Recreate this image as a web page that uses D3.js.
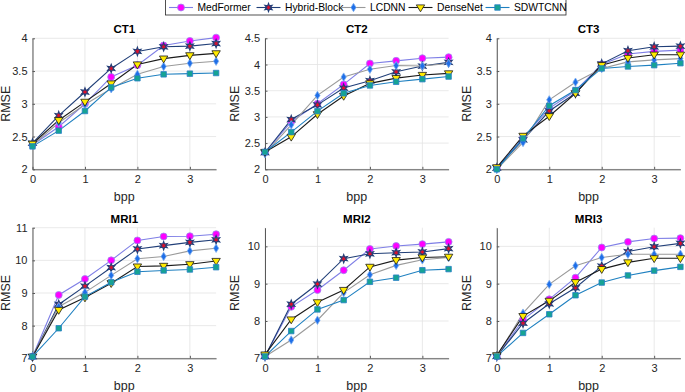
<!DOCTYPE html>
<html><head><meta charset="utf-8">
<script src="https://cdn.jsdelivr.net/npm/d3@7"></script>
<style>body{margin:0;background:#fff}svg{display:block;font-family:"Liberation Sans",Arial,sans-serif}</style>
</head><body><svg id="c" width="685" height="392"></svg>
<script>
const bpp = [0, 0.5, 1, 1.5, 2, 2.5, 3, 3.5];
const seriesNames = ["MedFormer", "Hybrid-Block", "LCDNN", "DenseNet", "SDWTCNN"];
const panelTitles = ["CT1", "CT2", "CT3", "MRI1", "MRI2", "MRI3"];
const yDomains = [[2, 4], [2, 4.5], [2, 4], [7, 11], [7, 10.5], [7, 10.5]];
const yTickSets = [[2, 2.5, 3, 3.5, 4], [2, 2.5, 3, 3.5, 4, 4.5], [2, 2.5, 3, 3.5, 4], [7, 8, 9, 10, 11], [7, 8, 9, 10], [7, 8, 9, 10]];
const xTicks = [0, 1, 2, 3];

const ct1MedFormer = [2.37, 2.65, 3.00, 3.41, 3.59, 3.89, 3.96, 4.01];
const ct1Hybrid    = [2.40, 2.82, 3.18, 3.54, 3.80, 3.87, 3.88, 3.92];
const ct1LCDNN     = [2.37, 2.71, 2.99, 3.23, 3.45, 3.57, 3.62, 3.65];
const ct1DenseNet  = [2.39, 2.75, 3.03, 3.31, 3.60, 3.69, 3.74, 3.77];
const ct1SDWTCNN   = [2.35, 2.59, 2.89, 3.25, 3.39, 3.45, 3.46, 3.47];

const ct2MedFormer = [2.32, 2.91, 3.25, 3.62, 4.02, 4.07, 4.12, 4.14];
const ct2Hybrid    = [2.32, 2.95, 3.23, 3.55, 3.69, 3.86, 3.97, 4.04];
const ct2LCDNN     = [2.30, 2.85, 3.41, 3.76, 3.91, 3.98, 3.97, 4.02];
const ct2DenseNet  = [2.33, 2.62, 3.05, 3.40, 3.64, 3.74, 3.80, 3.83];
const ct2SDWTCNN   = [2.33, 2.71, 3.11, 3.45, 3.60, 3.67, 3.72, 3.77];

const ct3MedFormer = [2.02, 2.48, 2.93, 3.20, 3.60, 3.76, 3.80, 3.82];
const ct3Hybrid    = [2.02, 2.45, 2.89, 3.16, 3.61, 3.81, 3.87, 3.88];
const ct3LCDNN     = [2.00, 2.41, 3.06, 3.33, 3.54, 3.64, 3.67, 3.69];
const ct3DenseNet  = [2.03, 2.51, 2.81, 3.16, 3.59, 3.70, 3.75, 3.75];
const ct3SDWTCNN   = [2.00, 2.47, 2.97, 3.21, 3.54, 3.57, 3.59, 3.62];

const mri1MedFormer = [7.05, 8.94, 9.43, 10.00, 10.61, 10.73, 10.74, 10.80];
const mri1Hybrid    = [7.05, 8.65, 9.21, 9.78, 10.35, 10.45, 10.55, 10.63];
const mri1LCDNN     = [7.05, 8.58, 9.02, 9.54, 10.05, 10.12, 10.29, 10.37];
const mri1DenseNet  = [7.05, 8.48, 8.86, 9.30, 9.81, 9.83, 9.88, 9.98];
const mri1SDWTCNN   = [7.05, 7.92, 8.89, 9.33, 9.65, 9.69, 9.72, 9.79];

const mri2MedFormer = [7.05, 8.38, 8.83, 9.36, 9.93, 10.01, 10.06, 10.12];
const mri2Hybrid    = [7.05, 8.45, 8.99, 9.67, 9.80, 9.83, 9.85, 9.94];
const mri2LCDNN     = [7.05, 7.49, 8.02, 8.76, 9.24, 9.49, 9.64, 9.70];
const mri2DenseNet  = [7.10, 8.04, 8.50, 8.83, 9.45, 9.63, 9.70, 9.72];
const mri2SDWTCNN   = [7.05, 7.73, 8.31, 8.56, 9.05, 9.16, 9.36, 9.39];

const mri3MedFormer = [7.05, 8.03, 8.58, 9.16, 9.97, 10.12, 10.21, 10.22];
const mri3Hybrid    = [7.05, 7.94, 8.46, 8.89, 9.47, 9.86, 9.99, 10.08];
const mri3LCDNN     = [7.05, 8.21, 8.98, 9.48, 9.70, 9.79, 9.79, 9.79];
const mri3DenseNet  = [7.08, 8.13, 8.54, 9.04, 9.39, 9.57, 9.68, 9.68];
const mri3SDWTCNN   = [7.05, 7.68, 8.18, 8.69, 9.03, 9.22, 9.35, 9.45];

const panelData = [
  [ct1MedFormer, ct1Hybrid, ct1LCDNN, ct1DenseNet, ct1SDWTCNN],
  [ct2MedFormer, ct2Hybrid, ct2LCDNN, ct2DenseNet, ct2SDWTCNN],
  [ct3MedFormer, ct3Hybrid, ct3LCDNN, ct3DenseNet, ct3SDWTCNN],
  [mri1MedFormer, mri1Hybrid, mri1LCDNN, mri1DenseNet, mri1SDWTCNN],
  [mri2MedFormer, mri2Hybrid, mri2LCDNN, mri2DenseNet, mri2SDWTCNN],
  [mri3MedFormer, mri3Hybrid, mri3LCDNN, mri3DenseNet, mri3SDWTCNN]
];

const styles = [
  {line: "#7f7fe6", fill: "#ff00ff", stroke: "#9a8cf0", shape: "circle"},
  {line: "#213f78", fill: "#e0102a", stroke: "#213f78", shape: "hexagram"},
  {line: "#9a9a9a", fill: "#1f6fe8", stroke: "#7fb0f0", shape: "diamond"},
  {line: "#1a1a1a", fill: "#ffea00", stroke: "#1a1a1a", shape: "tridown"},
  {line: "#1f80c0", fill: "#16a394", stroke: "#2a80c8", shape: "square"}
];

function markerPath(shape) {
  if (shape === "circle") return d3.symbol(d3.symbolCircle, 38)();
  if (shape === "square") return d3.symbol(d3.symbolSquare, 30)();
  if (shape === "diamond") return "M0,-4.2L2.6,0L0,4.2L-2.6,0Z";
  if (shape === "tridown") return "M-4.2,-2.6L4.2,-2.6L0,4.3Z";
  if (shape === "hexagram") {
    const pts = [];
    for (let i = 0; i < 12; i++) {
      const r = i % 2 === 0 ? 4.2 : 1.9;
      const a = Math.PI / 6 * i - Math.PI / 2;
      pts.push([r * Math.cos(a), r * Math.sin(a)]);
    }
    return "M" + pts.map(p => p[0].toFixed(2) + "," + p[1].toFixed(2)).join("L") + "Z";
  }
}

const svg = d3.select("#c");
const colX = [32.5, 265, 496.8];
const rowY = [[38.3, 169.3], [227.7, 358.3]];
const plotW = 183.6;
const ylabOff = [23, 26, 26];

panelTitles.forEach((title, pi) => {
  const col = pi % 3, row = Math.floor(pi / 3);
  const x0 = colX[col], yTop = rowY[row][0], yBot = rowY[row][1];
  const x = d3.scaleLinear().domain([0, 3.5]).range([x0, x0 + plotW]);
  const y = d3.scaleLinear().domain(yDomains[pi]).range([yBot, yTop]);
  const g = svg.append("g");

  g.selectAll(".gx").data(xTicks).enter().append("line")
    .attr("x1", d => x(d)).attr("x2", d => x(d)).attr("y1", yTop).attr("y2", yBot)
    .attr("stroke", "#e3e3e3").attr("stroke-width", 0.8);
  g.selectAll(".gy").data(yTickSets[pi]).enter().append("line")
    .attr("x1", x0).attr("x2", x0 + plotW).attr("y1", d => y(d)).attr("y2", d => y(d))
    .attr("stroke", "#e3e3e3").attr("stroke-width", 0.8);

  const ax = d3.axisBottom(x).tickValues(xTicks).tickFormat(d3.format("d")).tickSizeInner(-2.5).tickSizeOuter(0).tickPadding(6);
  const axG = g.append("g").attr("transform", `translate(0,${yBot})`).call(ax);
  const ay = d3.axisLeft(y).tickValues(yTickSets[pi]).tickFormat(d => String(d)).tickSizeInner(-2.5).tickSizeOuter(0).tickPadding(5);
  const ayG = g.append("g").attr("transform", `translate(${x0},0)`).call(ay);
  [axG, ayG].forEach(a => {
    a.select(".domain").attr("stroke", "#595959").attr("stroke-width", 1);
    a.selectAll(".tick line").attr("stroke", "#595959");
    a.selectAll(".tick text").attr("fill", "#262626").attr("font-size", 11).attr("font-family", "Liberation Sans, Arial, sans-serif");
  });

  panelData[pi].forEach((vals, si) => {
    const st = styles[si];
    const line = d3.line().x((d, i) => x(bpp[i])).y(d => y(d));
    g.append("path").datum(vals).attr("d", line).attr("fill", "none")
      .attr("stroke", st.line).attr("stroke-width", 1.1);
  });
  panelData[pi].forEach((vals, si) => {
    const st = styles[si];
    g.selectAll(null).data(vals).enter().append("path")
      .attr("d", markerPath(st.shape))
      .attr("transform", (d, i) => `translate(${x(bpp[i])},${y(d)})`)
      .attr("fill", st.fill).attr("stroke", st.stroke).attr("stroke-width", st.shape === "hexagram" ? 1.1 : 0.8);
  });

  g.append("text").attr("x", x0 + plotW / 2).attr("y", yTop - 5).attr("text-anchor", "middle")
    .attr("font-weight", "bold").attr("font-size", 11.5).attr("fill", "#000").text(title);
  g.append("text").attr("x", x0 + plotW / 2).attr("y", yBot + 32).attr("text-anchor", "middle")
    .attr("font-size", 12.5).attr("fill", "#262626").text("bpp");
  const yc = (yTop + yBot) / 2;
  g.append("text").attr("transform", `translate(${x0 - ylabOff[col]},${yc}) rotate(-90)`)
    .attr("text-anchor", "middle").attr("font-size", 12.5).attr("fill", "#262626").text("RMSE");
});

const lg = svg.append("g");
lg.append("rect").attr("x", 165.5).attr("y", -1).attr("width", 400.5).attr("height", 16)
  .attr("fill", "#fff").attr("stroke", "#262626").attr("stroke-width", 0.8);
const legX = [169, 256.5, 341.5, 408.5, 485.5];
seriesNames.forEach((name, si) => {
  const st = styles[si];
  const lx = legX[si], ly = 7.5;
  lg.append("line").attr("x1", lx).attr("x2", lx + 24).attr("y1", ly).attr("y2", ly)
    .attr("stroke", st.line).attr("stroke-width", 1.1);
  lg.append("path").attr("d", markerPath(st.shape)).attr("transform", `translate(${lx + 12},${ly})`)
    .attr("fill", st.fill).attr("stroke", st.stroke).attr("stroke-width", st.shape === "hexagram" ? 1.1 : 0.8);
  lg.append("text").attr("x", lx + 28.5).attr("y", ly + 3.6).attr("font-size", 10.3).attr("fill", "#000").text(name);
});
</script>
</body></html>
